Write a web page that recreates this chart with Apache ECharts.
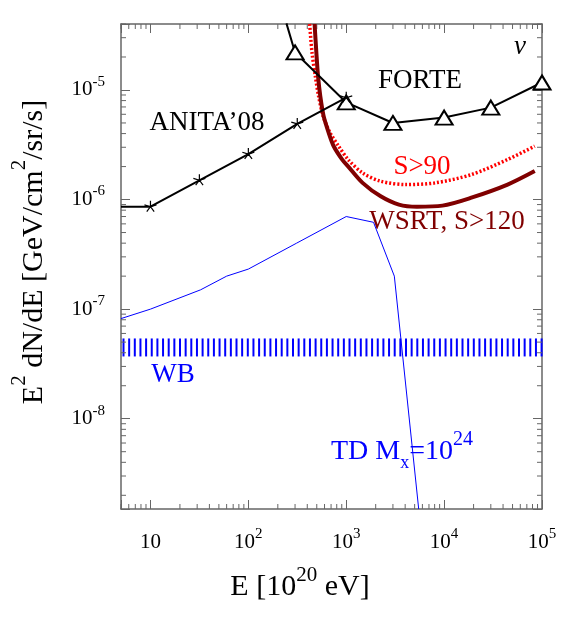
<!DOCTYPE html>
<html>
<head>
<meta charset="utf-8">
<script src="https://cdn.jsdelivr.net/npm/echarts@6/dist/echarts.min.js"></script>
<style>
html, body { margin: 0; padding: 0; background: #fff; }
#chart { width: 568px; height: 625px; }
</style>
</head>
<body>
<div id="chart"></div>
<script>
var X_MIN = 5, X_MAX = 1e5;
var Y_MIN = 1.5e-9, Y_MAX = 4e-5;

// ANITA'08 (stars)
var anitaE    = [5, 10, 31.6, 100, 316, 1000];
var anitaFlux = [8.6e-7, 8.6e-7, 1.5e-6, 2.6e-6, 4.9e-6, 8.5e-6];
var anitaMark = [false, true, true, true, true, true];

// FORTE (triangles)
var forteE    = [245, 300, 1000, 3000, 1e4, 3e4, 1e5];
var forteFlux = [4.05e-5, 2.2e-5, 7.7e-6, 5.0e-6, 5.6e-6, 6.9e-6, 1.17e-5];
var forteMark = [false, true, true, true, true, true, true];

// WSRT, S>120
var wsrtE    = [475, 495, 515, 543, 587, 661, 743, 906, 1045, 1470, 2250, 3450, 5280, 9600, 19000, 44500, 84300];
var wsrtFlux = [4.0e-5, 2.2e-5, 1.34e-5, 8.8e-6, 5.8e-6, 4.08e-6, 3.08e-6, 2.33e-6, 2.01e-6, 1.42e-6, 1.07e-6, 9.0e-7, 8.6e-7, 8.8e-7, 1.04e-6, 1.37e-6, 1.82e-6];

// S>90
var s90E    = [423, 447, 483, 522, 580, 680, 830, 1045, 1470, 2250, 4080, 8100, 19000, 44500, 84300];
var s90Flux = [4.0e-5, 2.2e-5, 1.34e-5, 8.8e-6, 5.8e-6, 4.1e-6, 3.1e-6, 2.32e-6, 1.75e-6, 1.47e-6, 1.37e-6, 1.42e-6, 1.69e-6, 2.32e-6, 3.07e-6];

// TD Mx=10^24
var tdE    = [5, 10, 32.5, 60, 100, 311, 1000, 1900, 3100, 5500];
var tdFlux = [8.2e-8, 1.0e-7, 1.5e-7, 2.0e-7, 2.32e-7, 4.0e-7, 7.0e-7, 6.2e-7, 2.0e-7, 1.5e-9];

// WB bound band
var wbBand = [3.7e-8, 5.4e-8];

// minor ticks: mantissas per decade
var minorMantissa = [2, 3, 4, 5, 6, 7, 8, 9];
var xDecades = [1, 10, 100, 1000, 10000];
var yDecades = [1e-9, 1e-8, 1e-7, 1e-6, 1e-5];

var FONT = '"Liberation Serif", "DejaVu Serif", serif';
var AXIS_COLOR = '#666';

var chartDom = document.getElementById('chart');
var myChart = echarts.init(chartDom);

function pts(xs, ys, flags) {
    return xs.map(function (x, i) {
        if (flags && !flags[i]) return { value: [x, ys[i]], symbol: 'none' };
        return [x, ys[i]];
    });
}

function minorList(decades, lo, hi) {
    var out = [];
    decades.forEach(function (d) {
        minorMantissa.forEach(function (m) {
            var v = d * m;
            if (v >= lo * 0.999 && v <= hi * 1.001) out.push(v);
        });
    });
    return out;
}

function powLabel(v) {
    var e = Math.log10(v), r = Math.round(e);
    if (Math.abs(e - r) > 1e-6) return '';
    if (r === 1) return '10';
    return '10{sup|' + r + '}';
}

var STAR = 'path://M1 1L1 0M1 1L1.951 0.691M1 1L0.049 0.691M1 1L0.412 1.809M1 1L1.588 1.809M1 2L1 2';

var tickLabel = {
    fontFamily: FONT, fontSize: 21, color: '#000',
    formatter: powLabel,
    rich: {
        sup: { fontFamily: FONT, fontSize: 15, color: '#000', padding: [0, 0, 16, 0] }
    }
};

function axisCommon(extra) {
    var base = {
        type: 'log', logBase: 10,
        splitLine: { show: false },
        axisLine: { show: true, onZero: false, lineStyle: { color: AXIS_COLOR, width: 1.5 } },
        axisTick: { show: true, inside: true, length: 9, lineStyle: { color: AXIS_COLOR, width: 1 } }
    };
    return Object.assign(base, extra);
}

var xMinor = minorList(xDecades, X_MIN, X_MAX);
var yMinor = minorList(yDecades, Y_MIN, Y_MAX);

function tickLine(x1, y1, x2, y2) {
    return { type: 'line', shape: { x1: x1, y1: y1, x2: x2, y2: y2 }, style: { stroke: AXIS_COLOR, lineWidth: 1 } };
}

var option = {
    animation: false,
    backgroundColor: '#fff',
    grid: { left: 121, right: 26, top: 24, bottom: 116, outerBoundsMode: 'none', containLabel: false },
    xAxis: [
        axisCommon({
            min: X_MIN, max: X_MAX, position: 'bottom',
            axisLabel: Object.assign({ margin: 17, lineHeight: 32 }, tickLabel)
        }),
        axisCommon({
            min: X_MIN, max: X_MAX, position: 'top',
            axisLabel: { show: false }
        })
    ],
    yAxis: [
        axisCommon({
            min: Y_MIN, max: Y_MAX, position: 'left',
            axisLabel: Object.assign({ margin: 16 }, tickLabel)
        }),
        axisCommon({
            min: Y_MIN, max: Y_MAX, position: 'right',
            axisLabel: { show: false }
        })
    ],
    series: [
        {
            // WB band, hatched
            type: 'custom', silent: true,
            data: [[X_MIN, wbBand[0], X_MAX, wbBand[1]]],
            encode: { x: [0, 2], y: [1, 3] },
            renderItem: function (params, api) {
                var p0 = api.coord([api.value(0), api.value(3)]);
                var p1 = api.coord([api.value(2), api.value(1)]);
                var kids = [];
                for (var x = p0[0] + 2.5; x < p1[0]; x += 5.65) {
                    kids.push({ type: 'line', shape: { x1: x, y1: p0[1], x2: x, y2: p1[1] }, style: { stroke: '#0000ff', lineWidth: 2 } });
                }
                return { type: 'group', children: kids };
            }
        },
        {
            // x minor ticks (bottom and top)
            type: 'custom', silent: true, clip: false,
            data: xMinor.map(function (v) { return [v, Y_MIN]; }),
            renderItem: function (params, api) {
                var cs = params.coordSys;
                var x = api.coord([api.value(0), Y_MIN])[0];
                var yb = cs.y + cs.height, yt = cs.y;
                return { type: 'group', children: [tickLine(x, yb, x, yb - 5), tickLine(x, yt, x, yt + 5)] };
            }
        },
        {
            // y minor ticks (left and right)
            type: 'custom', silent: true, clip: false,
            data: yMinor.map(function (v) { return [X_MIN, v]; }),
            renderItem: function (params, api) {
                var cs = params.coordSys;
                var y = api.coord([X_MIN, api.value(1)])[1];
                var xl = cs.x, xr = cs.x + cs.width;
                return { type: 'group', children: [tickLine(xl, y, xl + 5, y), tickLine(xr, y, xr - 5, y)] };
            }
        },
        {
            name: 'TD', type: 'line', symbol: 'none',
            data: pts(tdE, tdFlux),
            lineStyle: { color: '#0000ff', width: 1 }
        },
        {
            name: 'S>90', type: 'line', symbol: 'none', smooth: 0.3,
            data: pts(s90E, s90Flux),
            lineStyle: { color: '#ff0000', width: 3.5, type: [2, 2] }
        },
        {
            name: 'WSRT', type: 'line', symbol: 'none', smooth: 0.3,
            data: pts(wsrtE, wsrtFlux),
            lineStyle: { color: '#800000', width: 4 }
        },
        {
            name: 'FORTE', type: 'line',
            symbol: 'triangle', symbolSize: [17, 14],
            data: pts(forteE, forteFlux, forteMark),
            lineStyle: { color: '#000', width: 2 },
            itemStyle: { color: '#fff', borderColor: '#000', borderWidth: 2 }
        },
        {
            name: "ANITA'08", type: 'line',
            symbol: STAR, symbolSize: 12,
            data: pts(anitaE, anitaFlux, anitaMark),
            lineStyle: { color: '#000', width: 2 },
            itemStyle: { color: '#000', borderColor: '#000', borderWidth: 1.2 }
        }
    ],
    graphic: [
        { type: 'text', x: 520, y: 47, style: { text: 'ν', fontFamily: FONT, fontStyle: 'italic', fontSize: 27, fill: '#000', align: 'center', verticalAlign: 'middle' } },
        { type: 'text', x: 420, y: 81, style: { text: 'FORTE', fontFamily: FONT, fontSize: 27, fill: '#000', align: 'center', verticalAlign: 'middle' } },
        { type: 'text', x: 207, y: 123, style: { text: 'ANITA’08', fontFamily: FONT, fontSize: 27, fill: '#000', align: 'center', verticalAlign: 'middle' } },
        { type: 'text', x: 422, y: 167, style: { text: 'S>90', fontFamily: FONT, fontSize: 27, fill: '#ff0000', align: 'center', verticalAlign: 'middle' } },
        { type: 'text', x: 447, y: 222, style: { text: 'WSRT, S>120', fontFamily: FONT, fontSize: 27, fill: '#800000', align: 'center', verticalAlign: 'middle' } },
        { type: 'text', x: 173, y: 375, style: { text: 'WB', fontFamily: FONT, fontSize: 27, fill: '#0000ff', align: 'center', verticalAlign: 'middle' } },
        {
            type: 'text', x: 331, y: 452,
            style: {
                text: 'TD M{sub|x}=10{sup|24}', fontFamily: FONT, fontSize: 28, fill: '#0000ff', align: 'left', verticalAlign: 'middle',
                rich: {
                    sub: { fontFamily: FONT, fontSize: 18, fill: '#0000ff', padding: [22, 0, 0, 0] },
                    sup: { fontFamily: FONT, fontSize: 20, fill: '#0000ff', padding: [0, 0, 25, 0] }
                }
            }
        },
        {
            type: 'text', x: 300, y: 587,
            style: {
                text: 'E [10{sup|20} eV]', fontFamily: FONT, fontSize: 30, fill: '#000', align: 'center', verticalAlign: 'middle',
                rich: { sup: { fontFamily: FONT, fontSize: 21, fill: '#000', padding: [0, 0, 24, 0] } }
            }
        },
        {
            type: 'text', x: 34, y: 252, rotation: Math.PI / 2,
            style: {
                text: 'E{sup|2} dN/dE [GeV/cm{sup|2}/sr/s]', fontFamily: FONT, fontSize: 30, fill: '#000', align: 'center', verticalAlign: 'middle',
                rich: { sup: { fontFamily: FONT, fontSize: 21, fill: '#000', padding: [0, 0, 30, 0] } }
            }
        }
    ]
};

myChart.setOption(option);
</script>
</body>
</html>
